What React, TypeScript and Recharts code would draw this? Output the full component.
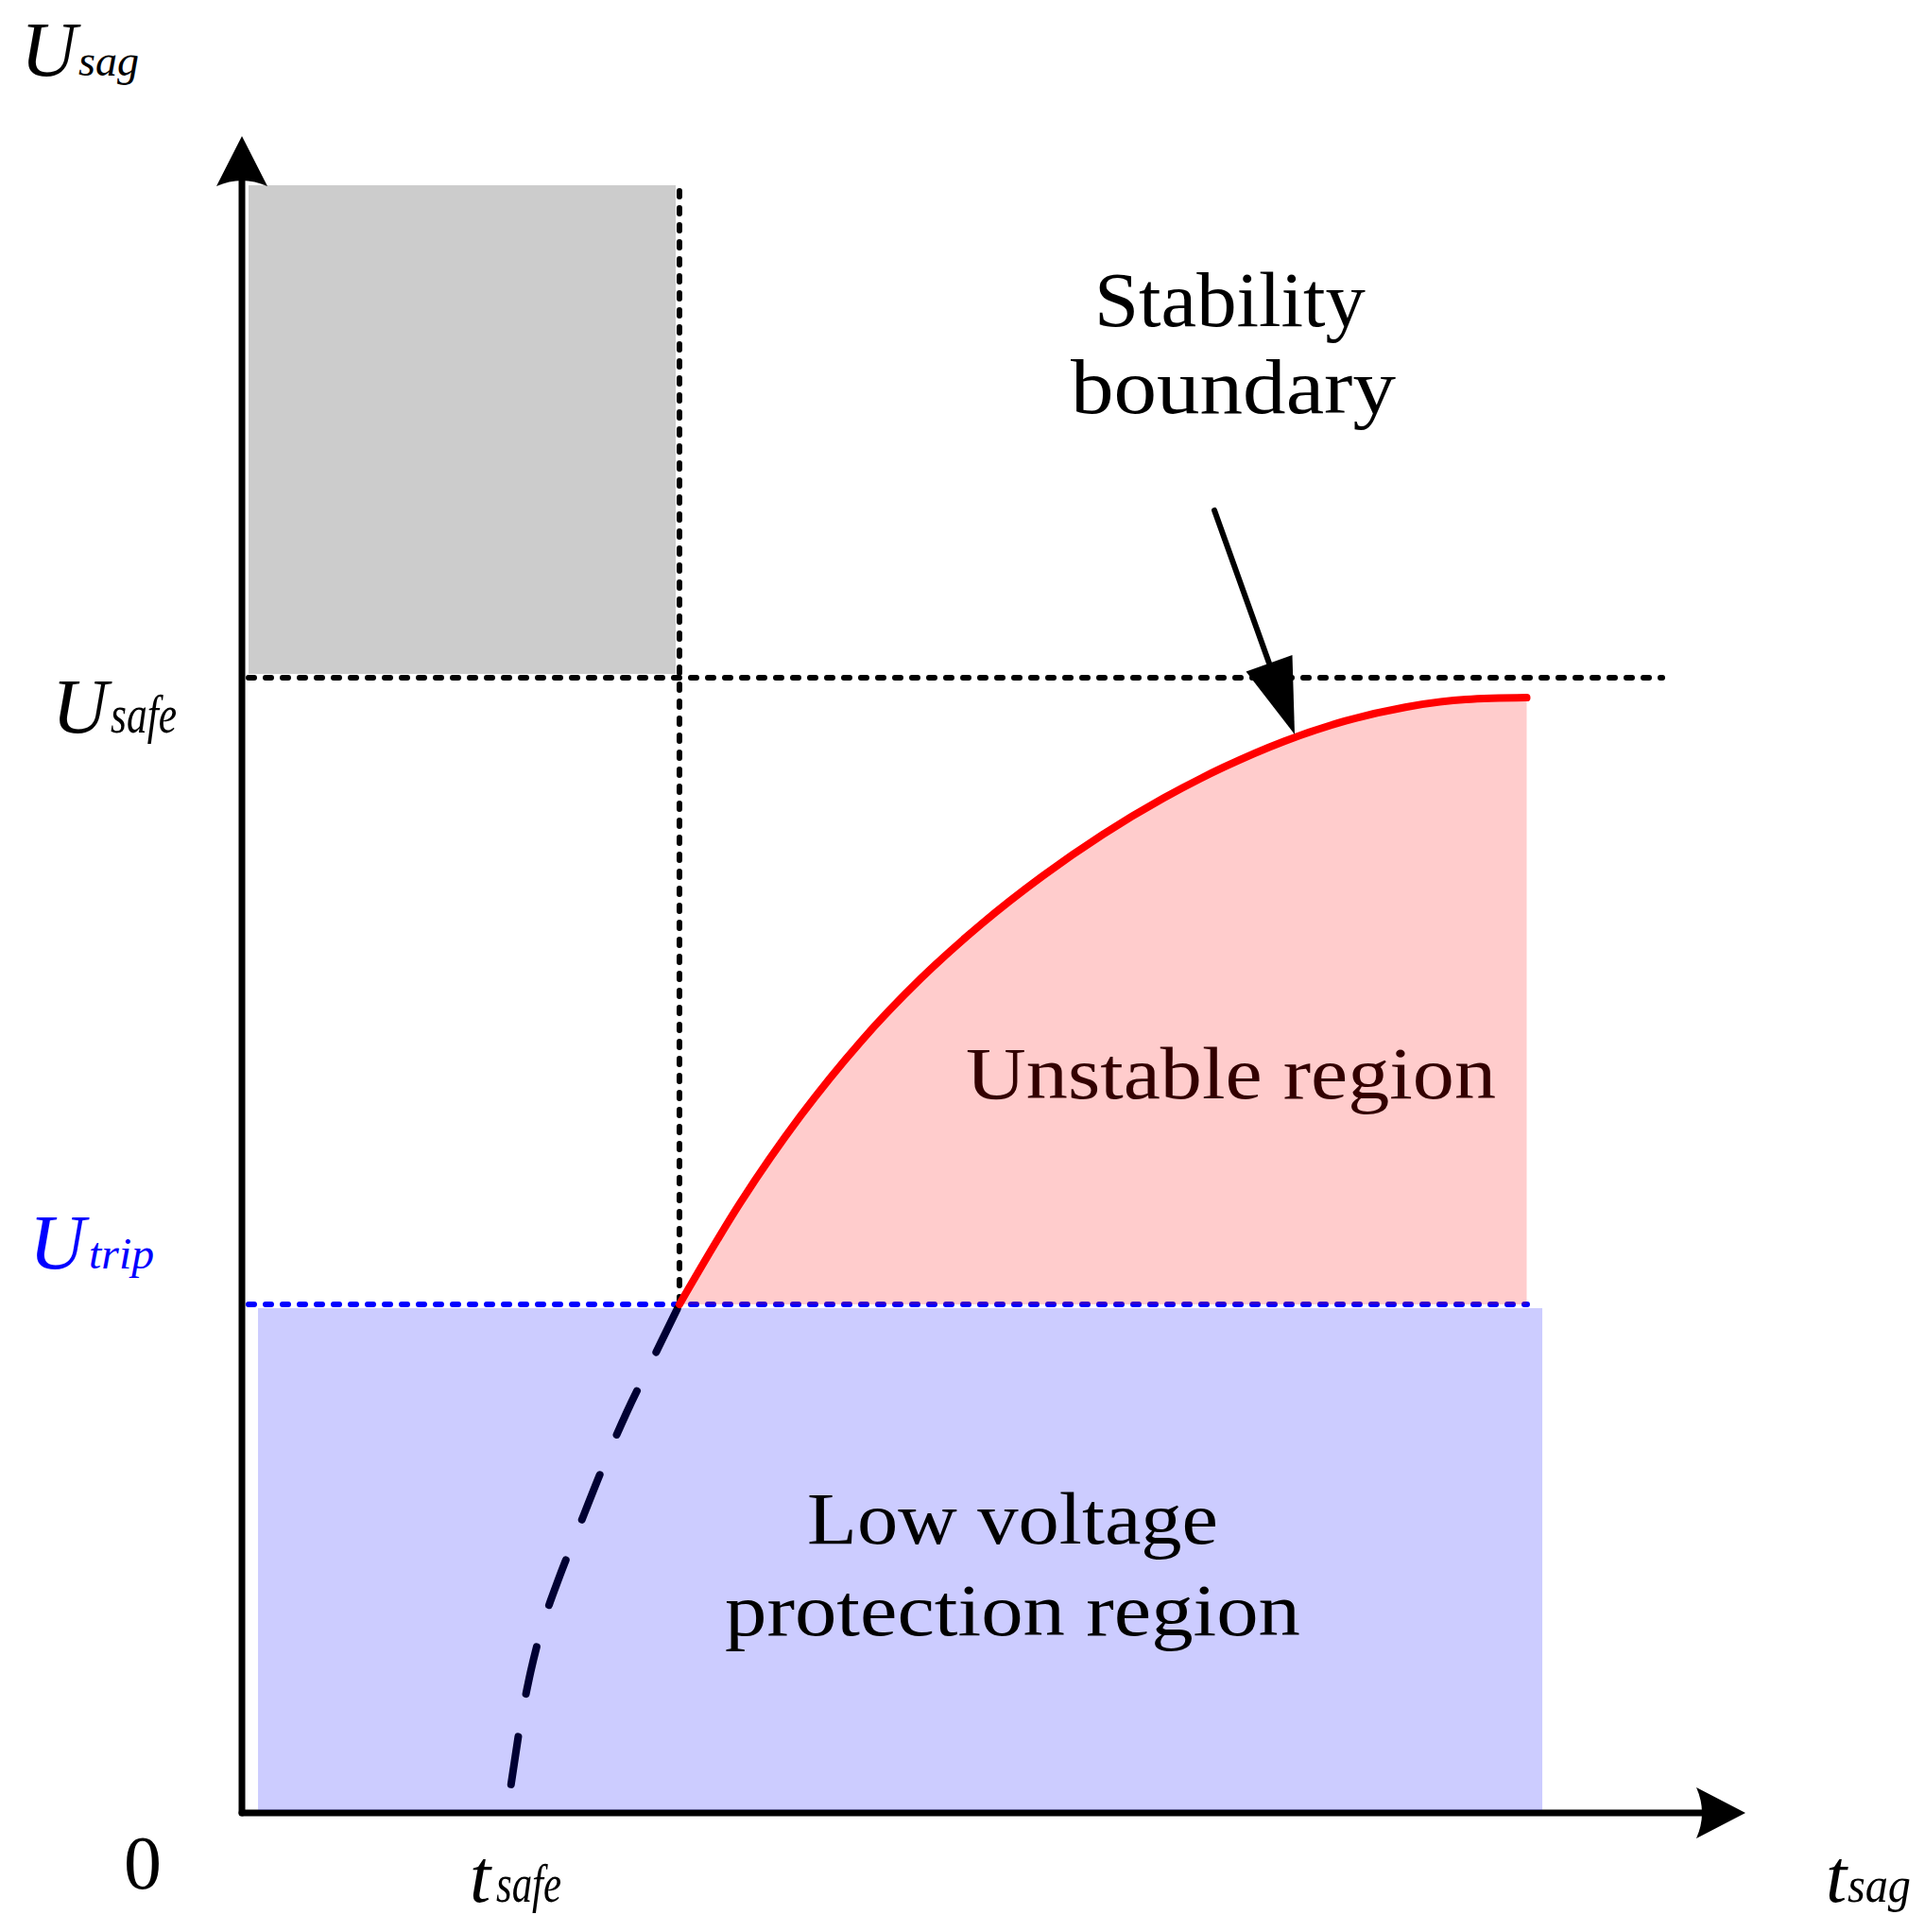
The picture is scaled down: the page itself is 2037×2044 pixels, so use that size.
import React from "react";
import {
  ComposedChart,
  XAxis,
  YAxis,
  Line,
  Area,
  ReferenceArea,
  ReferenceLine,
  ReferenceDot,
} from "recharts";

// ---------------- data (axis units: t_sag 0..100, U_sag 0..100) ----------------
const T_MAX = 100;
const U_MAX = 100;
const T_SAFE = 29.1;
const U_SAFE = 67.7;
const U_TRIP = 30.33;

// stability boundary (red curve)
const boundaryT = [29.1, 33.12, 37.15, 41.17, 45.19, 49.21, 53.24, 57.26, 61.28, 65.3, 69.33, 73.35, 77.37, 81.4, 85.45];
const boundaryU = [30.33, 36.35, 41.56, 46.01, 49.79, 53.03, 55.86, 58.35, 60.51, 62.36, 63.91, 65.11, 65.94, 66.4, 66.51];

// extrapolated boundary below U_trip (dashed curve)
const extrapT = [17.9, 18.5, 19.2, 20.0, 21.0, 22.4, 24.0, 25.6, 27.4, 29.1];
const extrapU = [1.7, 5.2, 8.4, 11.2, 13.8, 17.0, 20.6, 23.9, 27.2, 30.33];

// regions
const safeBoxT = [0.44, 28.85];
const safeBoxU = [67.93, 97.07];
const lvpBoxT = [1.07, 86.49];
const lvpBoxU = [0.17, 30.1];

// guide lines
const uSafeLineT = [0.44, 94.47];
const uTripLineT = [0.44, 85.48];
const tSafeLineU = [U_TRIP, 96.73];

// pointer arrow (Stability boundary)
const pointerT = [64.68, 70.02];
const pointerU = [77.68, 64.32];

// texts
const regionTexts = ["Stability", "boundary", "Unstable region", "Low voltage", "protection region"];
const symbolMain = ["U", "U", "U", "0", "t", "t"];
const symbolSub = ["sag", "safe", "trip", "", "safe", "sag"];

// ---------------- layout / style (not data) ----------------
const W = 2021;
const H = 2028;
const MARGIN = { top: 136, right: 182, bottom: 118, left: 248 };
const FONT = "'Liberation Serif', 'Times New Roman', serif";

// anchor (t,u) for each region text start/baseline, width, size, colour
const regionLayout = [
  { t: 56.69, u: 88.67, w: 287, size: 83, color: "#000000" },
  { t: 55.12, u: 83.48, w: 344, size: 83, color: "#000000" },
  { t: 48.15, u: 42.62, w: 561, size: 79, color: "#330000" },
  { t: 37.59, u: 16.07, w: 435, size: 79, color: "#000000" },
  { t: 32.12, u: 10.6, w: 609, size: 79, color: "#000000" },
];

const symbolLayout = [
  { t: -14.71, u: 103.61, size: 82, italic: true, subDx: 61, subW: 64, subSize: 46, color: "#000000" },
  { t: -12.63, u: 64.43, size: 82, italic: true, subDx: 62, subW: 70, subSize: 56, color: "#000000" },
  { t: -14.14, u: 32.47, size: 82, italic: true, subDx: 63, subW: 69, subSize: 46, color: "#0000ff" },
  { t: -7.86, u: -4.51, size: 80, italic: false, subDx: 0, subW: 0, subSize: 0, color: "#000000" },
  { t: 15.15, u: -5.3, size: 80, italic: true, subDx: 28, subW: 69, subSize: 56, color: "#000000" },
  { t: 105.34, u: -5.3, size: 80, italic: true, subDx: 23, subW: 67, subSize: 52, color: "#000000" },
];

const boundaryData = boundaryT.map((t, i) => ({ t, u: boundaryU[i] }));
const extrapData = extrapT.map((t, i) => ({ t, u: extrapU[i] }));

function arrowShape(headLen: number, headW: number, notch: number, width: number) {
  return (p: any) => {
    const { x1, y1, x2, y2 } = p;
    const dx = x2 - x1;
    const dy = y2 - y1;
    const len = Math.hypot(dx, dy) || 1;
    const ux = dx / len;
    const uy = dy / len;
    const px = -uy;
    const py = ux;
    const bx = x2 - ux * headLen;
    const by = y2 - uy * headLen;
    const cx = bx + ux * notch * 2;
    const cy = by + uy * notch * 2;
    const ex = bx + ux * notch;
    const ey = by + uy * notch;
    const head = `M${x2},${y2} L${bx + (px * headW) / 2},${by + (py * headW) / 2} Q${cx},${cy} ${bx - (px * headW) / 2},${by - (py * headW) / 2} Z`;
    return (
      <g>
        <line x1={x1} y1={y1} x2={ex} y2={ey} stroke="#000" strokeWidth={width} strokeLinecap="round" />
        <path d={head} fill="#000" stroke="none" />
      </g>
    );
  };
}

function pos(props: any) {
  const vb = props.viewBox || {};
  return { x: (vb.x || 0) + (vb.width || 0) / 2, y: (vb.y || 0) + (vb.height || 0) / 2 };
}

function regionLabel(i: number) {
  const L = regionLayout[i];
  return (props: any) => {
    const { x, y } = pos(props);
    return (
      <text
        x={x}
        y={y}
        fontFamily={FONT}
        fontSize={L.size}
        fill={L.color}
        textLength={L.w}
        lengthAdjust="spacingAndGlyphs"
      >
        {regionTexts[i]}
      </text>
    );
  };
}

function symbolLabel(i: number) {
  const L = symbolLayout[i];
  return (props: any) => {
    const { x, y } = pos(props);
    return (
      <g>
        <text x={x} y={y} fontFamily={FONT} fontSize={L.size} fontStyle={L.italic ? "italic" : "normal"} fill={L.color}>
          {symbolMain[i]}
        </text>
        {symbolSub[i] ? (
          <text
            x={x + L.subDx}
            y={y}
            fontFamily={FONT}
            fontSize={L.subSize}
            fontStyle="italic"
            fill={L.color}
            textLength={L.subW}
            lengthAdjust="spacingAndGlyphs"
          >
            {symbolSub[i]}
          </text>
        ) : null}
      </g>
    );
  };
}

const emptyDot = () => <g />;

export default function App() {
  return (
    <div style={{ width: W, height: H }}>
      <ComposedChart width={W} height={H} margin={MARGIN}>
        <XAxis type="number" dataKey="t" domain={[0, T_MAX]} hide allowDataOverflow />
        <YAxis type="number" dataKey="u" domain={[0, U_MAX]} hide allowDataOverflow />

        {/* safe region box */}
        <ReferenceArea
          x1={safeBoxT[0]}
          x2={safeBoxT[1]}
          y1={safeBoxU[0]}
          y2={safeBoxU[1]}
          fill="#cccccc"
          fillOpacity={1}
          stroke="none"
          ifOverflow="visible"
          zIndex={10}
        />

        {/* axes with arrows */}
        <ReferenceLine
          segment={[{ x: 0, y: 0 }, { x: 0, y: U_MAX }]}
          ifOverflow="visible"
          shape={arrowShape(53, 54, 6, 7)}
          zIndex={20}
        />
        <ReferenceLine
          segment={[{ x: 0, y: 0 }, { x: T_MAX, y: 0 }]}
          ifOverflow="visible"
          shape={arrowShape(52, 54, 6, 7)}
          zIndex={20}
        />

        {/* dotted guide lines */}
        <ReferenceLine
          segment={[{ x: uSafeLineT[0], y: U_SAFE }, { x: uSafeLineT[1], y: U_SAFE }]}
          stroke="#000000"
          strokeWidth={6}
          strokeDasharray="6 12"
          strokeLinecap="round"
          ifOverflow="visible"
          zIndex={30}
        />
        <ReferenceLine
          segment={[{ x: T_SAFE, y: tSafeLineU[1] }, { x: T_SAFE, y: tSafeLineU[0] }]}
          stroke="#000000"
          strokeWidth={6}
          strokeDasharray="6 12"
          strokeLinecap="round"
          ifOverflow="visible"
          zIndex={30}
        />
        <ReferenceLine
          segment={[{ x: uTripLineT[0], y: U_TRIP }, { x: uTripLineT[1], y: U_TRIP }]}
          stroke="#0000ff"
          strokeWidth={6}
          strokeDasharray="6 12"
          strokeLinecap="round"
          ifOverflow="visible"
          zIndex={30}
        />

        {/* dashed extrapolation */}
        <Line
          data={extrapData}
          dataKey="u"
          type="monotone"
          stroke="#000000"
          strokeWidth={8}
          strokeDasharray="51 46"
          strokeLinecap="round"
          dot={false}
          activeDot={false}
          isAnimationActive={false}
          zIndex={40}
        />

        {/* low voltage protection region */}
        <ReferenceArea
          x1={lvpBoxT[0]}
          x2={lvpBoxT[1]}
          y1={lvpBoxU[0]}
          y2={lvpBoxU[1]}
          fill="#0000ff"
          fillOpacity={0.2}
          stroke="none"
          ifOverflow="visible"
          zIndex={50}
        />

        {/* unstable region */}
        <Area
          data={boundaryData}
          dataKey="u"
          type="monotone"
          baseValue={U_TRIP}
          fill="#ff0000"
          fillOpacity={0.2}
          stroke="none"
          dot={false}
          activeDot={false}
          isAnimationActive={false}
          zIndex={60}
        />
        <Line
          data={boundaryData}
          dataKey="u"
          type="monotone"
          stroke="#ff0000"
          strokeWidth={8}
          strokeLinecap="round"
          dot={false}
          activeDot={false}
          isAnimationActive={false}
          zIndex={70}
        />

        {/* pointer */}
        <ReferenceLine
          segment={[{ x: pointerT[0], y: pointerU[0] }, { x: pointerT[1], y: pointerU[1] }]}
          ifOverflow="visible"
          shape={arrowShape(80, 52, 0, 6)}
          zIndex={80}
        />

        {regionLayout.map((L, i) => (
          <ReferenceDot
            key={"r" + i}
            x={L.t}
            y={L.u}
            r={0}
            ifOverflow="visible"
            shape={emptyDot}
            label={regionLabel(i)}
            zIndex={90}
          />
        ))}
        {symbolLayout.map((L, i) => (
          <ReferenceDot
            key={"s" + i}
            x={L.t}
            y={L.u}
            r={0}
            ifOverflow="visible"
            shape={emptyDot}
            label={symbolLabel(i)}
            zIndex={90}
          />
        ))}
      </ComposedChart>
    </div>
  );
}
